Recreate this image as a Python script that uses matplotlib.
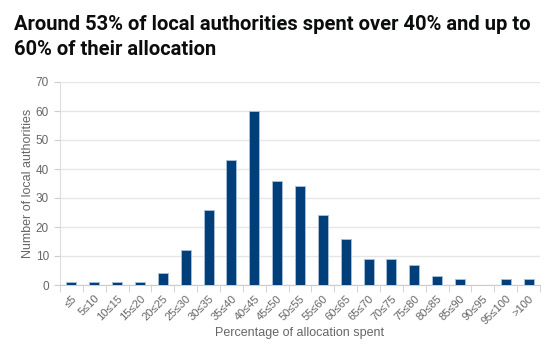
import matplotlib.pyplot as plt
import numpy as np

categories = ["≤5", "5≤10", "10≤15", "15≤20", "20≤25", "25≤30", "30≤35",
              "35≤40", "40≤45", "45≤50", "50≤55", "55≤60", "60≤65", "65≤70",
              "70≤75", "75≤80", "80≤85", "85≤90", "90≤95", "95≤100", ">100"]
counts = [1, 1, 1, 1, 4, 12, 26, 43, 60, 36, 34, 24, 16, 9, 9, 7, 3, 2, 0, 2, 2]

title = "Around 53% of local authorities spent over 40% and up to\n60% of their allocation"

plt.rcParams['font.family'] = ['Liberation Sans', 'DejaVu Sans']

fig = plt.figure(figsize=(5.59, 3.55), dpi=100)
ax = fig.add_axes([60 / 559, 1 - 285 / 355, 480 / 559, 203 / 355])

x = np.arange(len(categories))
ax.bar(x, counts, width=0.44, color='#003f7a', edgecolor='#a9c0d8', linewidth=0.6, zorder=3)

ax.set_xlim(-0.5, len(categories) - 0.5)
ax.set_ylim(0, 70)
ax.set_yticks(range(0, 71, 10))
ax.yaxis.grid(True, color='#e6e6e6', linewidth=1, zorder=0)

ax.set_xticks(x)
ax.set_xticklabels(categories, rotation=45, ha='right', rotation_mode='anchor',
                   fontsize=8, color='#666666')
ax.set_xticks(np.arange(-0.5, len(categories)), minor=True)
ax.tick_params(axis='x', which='major', length=0, pad=6)
ax.tick_params(axis='x', which='minor', length=5, color='#cccccc')
ax.tick_params(axis='y', length=4, color='#cccccc', labelsize=8.5, labelcolor='#666666', pad=4)

for side in ['top', 'right']:
    ax.spines[side].set_visible(False)
ax.spines['left'].set_color('#dddddd')
ax.spines['bottom'].set_color('#cccccc')

ax.set_xlabel("Percentage of allocation spent", fontsize=9, color='#666666', va='center')
ax.xaxis.set_label_coords(0.5, -0.236)
ax.set_ylabel("Number of local authorities", fontsize=9, color='#666666', va='center')
ax.yaxis.set_label_coords(-0.066, 0.5)

t = fig.text(14 / 559, 1 - 15 / 355, title, ha='left', va='top', fontsize=15,
             fontweight='bold', color='#0b0c0c', family=['Roboto', 'DejaVu Sans'],
             linespacing=1.4)
# shrink the title so the first line spans about 518 px like the reference
fig.canvas.draw()
w = t.get_window_extent().width
t.set_fontsize(15 * 518 / w)

fig.savefig("out.png", dpi=100)
